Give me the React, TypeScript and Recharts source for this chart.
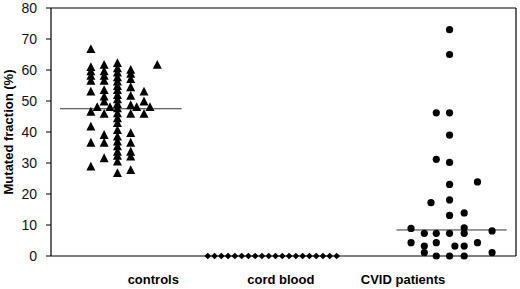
import { ScatterChart, Scatter, XAxis, YAxis, ReferenceLine, Label } from 'recharts';

// x axis runs 0..3.5, groups sit near 0.55 / 1.65 / 3.0
const categoryTicks = [0.77, 1.73, 2.65];
const categoryLabels = ['controls', 'cord blood', 'CVID patients'];
const yTicks = [0, 10, 20, 30, 40, 50, 60, 70, 80];

// controls: one list of values per jitter column
const controlsColumns = [0.3, 0.4, 0.5, 0.6, 0.7, 0.8, 0.348, 0.444, 0.645, 0.745];
const controlsValues = [
    [66.7, 60.9, 59.5, 58.1, 56.5, 53.0, 46.5, 41.7, 36.5, 28.8],
    [61.6, 59.5, 58.1, 56.5, 53.5, 51.4, 49.8, 45.8, 39.0, 36.5, 31.5],
    [62.2, 60.5, 59.1, 57.6, 56.2, 54.8, 53.5, 51.9, 50.5, 49.0, 47.6, 46.0, 44.4, 42.8, 40.6, 38.5, 36.9, 35.3, 33.6, 32.3, 30.4, 26.7],
    [60.0, 58.7, 57.0, 54.4, 51.6, 48.6, 45.8, 39.6, 36.5, 33.6, 32.0, 27.7],
    [53.0, 49.8, 45.8],
    [61.6],
    [48.0],
    [48.0],
    [48.0],
    [48.0],
];
const controlsMedian = 47.5;

// cord blood: all zero, spread along the axis
const cordX = [1.18, 1.231, 1.282, 1.333, 1.384, 1.435, 1.486, 1.537, 1.588, 1.639,
    1.69, 1.741, 1.792, 1.843, 1.894, 1.945, 1.996, 2.047, 2.098, 2.15];
const cordValues = [0, 0, 0, 0, 0, 0, 0, 0, 0, 0, 0, 0, 0, 0, 0, 0, 0, 0, 0, 0];

// CVID patients
const cvidColumns = [2.71, 2.81, 2.86, 2.9, 3.0, 3.04, 3.11, 3.21, 3.32];
const cvidValues = [
    [8.9, 4.3],
    [7.3, 3.2, 1.1],
    [17.2],
    [46.2, 31.2, 7.3, 4.3, 0],
    [73.0, 65.0, 46.2, 39.0, 30.2, 23.1, 18.1, 13.1, 7.3, 0],
    [3.2],
    [13.9, 9.1, 7.3, 3.2, 0],
    [23.9, 4.3],
    [8.1, 1.1],
];
const cvidMedian = 8.4;

function toPoints(cols: number[], vals: number[][]) {
    return cols.flatMap((x, i) => vals[i].map((y) => ({ x, y })));
}

const controlsData = toPoints(controlsColumns, controlsValues);
const cordData = cordX.map((x, i) => ({ x, y: cordValues[i] }));
const cvidData = toPoints(cvidColumns, cvidValues);

// eslint-disable-next-line @typescript-eslint/no-explicit-any
const Triangle = (p: any) => (
    <path d={`M${p.cx},${p.cy - 5} L${p.cx + 4.5},${p.cy + 3.8} L${p.cx - 4.5},${p.cy + 3.8} Z`} fill="#000" />
);
// eslint-disable-next-line @typescript-eslint/no-explicit-any
const Diamond = (p: any) => (
    <path d={`M${p.cx},${p.cy - 3.3} L${p.cx + 3.4},${p.cy} L${p.cx},${p.cy + 3.3} L${p.cx - 3.4},${p.cy} Z`} fill="#000" />
);
// eslint-disable-next-line @typescript-eslint/no-explicit-any
const Dot = (p: any) => <circle cx={p.cx} cy={p.cy} r={3.6} fill="#000" />;

const font = 'Arial, "Liberation Sans", sans-serif';

export default function App() {
    return (
        <div style={{ width: 520, height: 289, background: '#fff' }}>
            <style>{'body{margin:0}'}</style>
            <ScatterChart width={520} height={289} margin={{ top: 8, right: 4, left: 0, bottom: 3 }}>
                <XAxis
                    type="number"
                    dataKey="x"
                    domain={[0, 3.5]}
                    ticks={categoryTicks}
                    tickFormatter={(v: number) => categoryLabels[categoryTicks.indexOf(v)] ?? ''}
                    tickLine={false}
                    tickSize={0}
                    tickMargin={19}
                    height={30}
                    axisLine={{ stroke: '#000', strokeWidth: 1.2 }}
                    tick={{ fill: '#000', fontSize: 13, fontWeight: 'bold', fontFamily: font }}
                />
                <YAxis
                    type="number"
                    dataKey="y"
                    domain={[0, 80]}
                    ticks={yTicks}
                    width={51}
                    tickSize={5}
                    tickMargin={9}
                    axisLine={{ stroke: '#000', strokeWidth: 1.2 }}
                    tickLine={{ stroke: '#000' }}
                    tick={{ fill: '#111', fontSize: 14, fontFamily: font }}
                >
                    <Label
                        // eslint-disable-next-line @typescript-eslint/no-explicit-any
                        content={(props: any) => {
                            const vb = props.viewBox || { y: 8, height: 248 };
                            const cy = vb.y + vb.height / 2;
                            return (
                                <text
                                    x={13}
                                    y={cy}
                                    transform={`rotate(-90, 13, ${cy})`}
                                    textAnchor="middle"
                                    fontSize={13}
                                    fontWeight="bold"
                                    fontFamily={font}
                                    fill="#000"
                                >
                                    Mutated fraction (%)
                                </text>
                            );
                        }}
                    />
                </YAxis>
                <ReferenceLine y={80} stroke="#000" strokeWidth={1.2} />
                <ReferenceLine x={3.5} stroke="#000" strokeWidth={1.2} />
                <ReferenceLine
                    segment={[{ x: 0.068, y: controlsMedian }, { x: 0.983, y: controlsMedian }]}
                    stroke="#333"
                />
                <ReferenceLine
                    segment={[{ x: 2.6, y: cvidMedian }, { x: 3.43, y: cvidMedian }]}
                    stroke="#333"
                />
                <Scatter data={controlsData} shape={Triangle} isAnimationActive={false} />
                <Scatter data={cordData} shape={Diamond} isAnimationActive={false} />
                <Scatter data={cvidData} shape={Dot} isAnimationActive={false} />
            </ScatterChart>
        </div>
    );
}
